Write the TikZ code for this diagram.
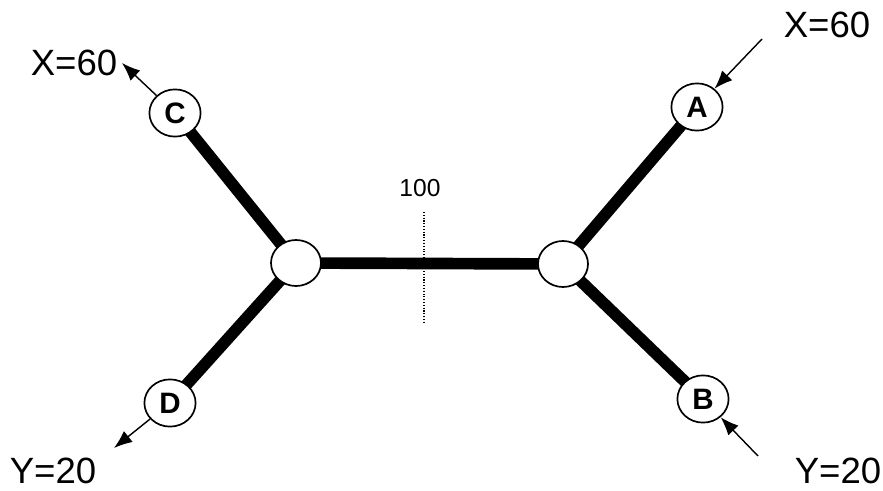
\documentclass[tikz,border=0pt]{standalone}
\usepackage{fontspec}
\setmainfont{Liberation Sans}
\usetikzlibrary{shapes.geometric,arrows.meta,backgrounds}

\begin{document}
\begin{tikzpicture}[x=0.025cm, y=-0.025cm,
  leaf/.style={ellipse, draw=black, line width=1.2pt, fill=white, inner sep=0pt, minimum width=1.28cm, minimum height=1.18cm, font=\bfseries\fontsize{21}{23}\selectfont},
  hub/.style={ellipse, draw=black, line width=1.2pt, fill=white, inner sep=0pt, minimum width=1.25cm, minimum height=1.15cm},
  branch/.style={line width=8.3pt},
  flow/.style={line width=1pt, -{Latex[length=13pt,width=10pt]}},
  value/.style={font=\fontsize{26}{30}\selectfont, inner sep=0pt}]
\useasboundingbox (0,0) rectangle (883,491);

\node (c) [leaf] at (175,113) {C};
\node (d) [leaf] at (170,403) {D};
\node (a) [leaf] at (697,107) {A};
\node (b) [leaf] at (703,399) {B};
\node (lhub) [hub] at (296,263) {};
\node (rhub) [hub] at (563,264) {};

\begin{pgfonlayer}{background}
\draw[branch] (c.center) -- (lhub.center);
\draw[branch] (d.center) -- (lhub.center);
\draw[branch] (lhub.center) -- (rhub.center);
\draw[branch] (rhub.center) -- (a.center);
\draw[branch] (rhub.center) -- (b.center);
\end{pgfonlayer}

\node (len) [font=\fontsize{17.5}{20}\selectfont, inner sep=0pt] at (420,188) {100};
\coordinate (cuttop) at (424,212);
\coordinate (cutbot) at (424,323);
\draw[line width=0.8pt, dash pattern=on 0.8pt off 1.2pt] (cuttop) -- (cutbot);

\node (xleft) [value] at (74,63) {X=60};
\node (xright) [value] at (827,25) {X=60};
\node (yleft) [value] at (53,471) {Y=20};
\node (yright) [value] at (838,471) {Y=20};

\coordinate (cout) at (122,63);
\coordinate (dout) at (114,448);
\coordinate (ain) at (762,39);
\coordinate (bin) at (758,456);

\draw[flow] (c) -- (cout);
\draw[flow] (d) -- (dout);
\draw[flow] (ain) -- (a);
\draw[flow] (bin) -- (b);

\end{tikzpicture}
\end{document}
